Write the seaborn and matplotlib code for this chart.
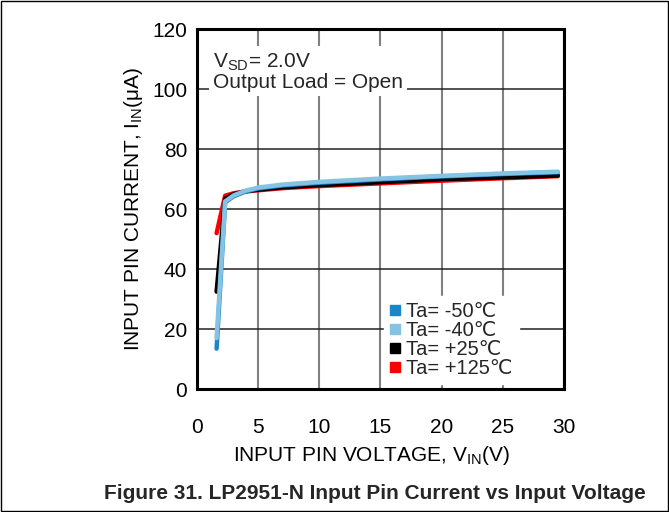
import matplotlib.pyplot as plt
import pandas as pd
import seaborn as sns
from matplotlib.lines import Line2D
from matplotlib.patches import Rectangle

# Data
vin = [1.6, 2.3, 3, 4, 5, 7, 10, 15, 20, 25, 29.5]
i_m50 = [13.5, 62.3, 64.3, 65.9, 66.9, 67.9, 68.8, 69.9, 70.9, 71.7, 72.3]
i_m40 = [17.0, 62.6, 64.6, 66.2, 67.2, 68.2, 69.1, 70.2, 71.1, 71.9, 72.5]
i_p25 = [32.5, 63.5, 65.0, 66.0, 66.5, 67.3, 68.0, 69.0, 70.0, 70.6, 71.2]
i_p125 = [52.0, 64.5, 65.3, 65.9, 66.3, 67.0, 67.7, 68.6, 69.5, 70.3, 71.0]

labels = ["Ta= -50\u2103", "Ta= -40\u2103", "Ta= +25\u2103", "Ta= +125\u2103"]
colors = ["#1a86c8", "#86c3e3", "#000000", "#ff0000"]
x_ticks = [0, 5, 10, 15, 20, 25, 30]
y_ticks = [0, 20, 40, 60, 80, 100, 120]

sns.set_theme(style="white")
plt.rcParams["font.family"] = ["Liberation Sans", "DejaVu Sans"]
plt.rcParams["mathtext.fontset"] = "custom"
plt.rcParams["mathtext.rm"] = "Liberation Sans"

df = pd.DataFrame({
    "vin": vin * 4,
    "iin": i_m50 + i_m40 + i_p25 + i_p125,
    "temp": sum([[lab] * len(vin) for lab in labels], []),
})

fig = plt.figure(figsize=(6.69, 5.12), dpi=100)
ax = fig.add_axes([0.2945, 0.240, 0.5485, 0.703])

# draw order: red, black, dark blue, light blue on top
for k in [3, 2, 0, 1]:
    sns.lineplot(data=df[df["temp"] == labels[k]], x="vin", y="iin",
                 color=colors[k], linewidth=3.2, ax=ax, legend=False, zorder=3)

ax.set_xlim(0, 30)
ax.set_ylim(0, 120)
ax.set_xticks(x_ticks)
ax.set_yticks(y_ticks)
ax.set_axisbelow(True)
ax.grid(axis="y", color="#222222", linewidth=1.1)
ax.grid(axis="x", color="#808080", linewidth=1.5)
for s in ax.spines.values():
    s.set_color("black")
    s.set_linewidth(2.2)
ax.tick_params(axis="both", length=0, labelsize=15, colors="black")
ax.tick_params(axis="x", pad=21)
ax.tick_params(axis="y", pad=7)

ax.set_xlabel(r"INPUT PIN VOLTAGE, V$_{\mathregular{IN}}$(V)", fontsize=15,
              labelpad=5, color="black")
ax.xaxis.label.set_x(0.475)
ax.set_ylabel(r"INPUT PIN CURRENT, I$_{\mathregular{IN}}$(μA)", fontsize=15,
              labelpad=5, color="black")

ax.text(1.3, 112.5, "V$_{\\mathregular{SD}}$= 2.0V\nOutput Load = Open",
        fontsize=15, va="top", ha="left", linespacing=0.95, zorder=2,
        bbox=dict(facecolor="white", edgecolor="none", pad=3))

handles = [Line2D([], [], marker="s", linestyle="none", markersize=7,
                  color=c) for c in colors]
leg = ax.legend(handles, labels, loc="lower left", bbox_to_anchor=(0.51, 0.014),
                borderaxespad=0, fontsize=14.5, frameon=True, framealpha=1,
                facecolor="white", edgecolor="white", fancybox=False,
                handlelength=0.5, handletextpad=0.3, labelspacing=0.0,
                borderpad=0.3)
leg.set_zorder(2)

fig.text(0.561, 0.037, "Figure 31. LP2951-N Input Pin Current vs Input Voltage",
         ha="center", va="center", fontsize=15, weight="bold")
fig.patches.append(Rectangle((0.001, 0.001), 0.997, 0.997, transform=fig.transFigure,
                             fill=False, edgecolor="black", linewidth=1))

fig.savefig("out.png", dpi=100)
